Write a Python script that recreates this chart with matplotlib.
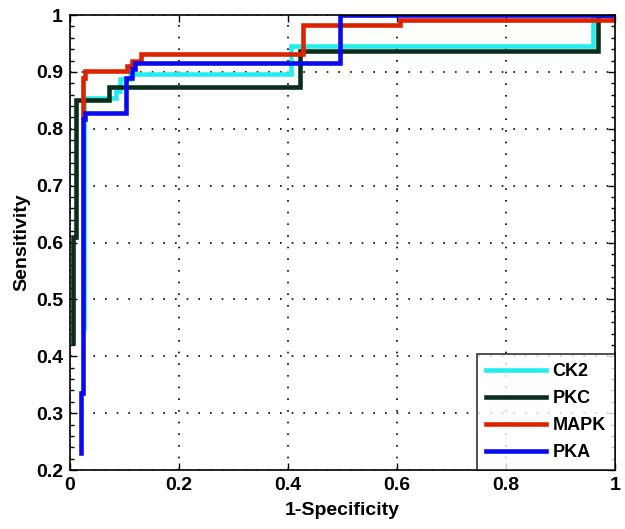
import matplotlib
matplotlib.use("Agg")
import matplotlib.pyplot as plt
from matplotlib.ticker import MultipleLocator

# ROC curve vertices (1-Specificity, Sensitivity)
ck2_fpr = [0.025, 0.025, 0.084, 0.084, 0.092, 0.092, 0.110, 0.110, 0.405, 0.405, 0.960, 0.960, 1.0]
ck2_tpr = [0.45, 0.854, 0.854, 0.866, 0.866, 0.888, 0.888, 0.896, 0.896, 0.946, 0.946, 1.0, 1.0]

pkc_fpr = [0.006, 0.006, 0.011, 0.011, 0.072, 0.072, 0.422, 0.422, 0.968, 0.968, 1.0]
pkc_tpr = [0.424, 0.61, 0.61, 0.851, 0.851, 0.873, 0.873, 0.9375, 0.9375, 1.0, 1.0]

mapk_fpr = [0.023, 0.023, 0.028, 0.028, 0.104, 0.104, 0.113, 0.113, 0.130, 0.130,
            0.428, 0.428, 0.605, 0.605, 0.994, 0.994, 1.0]
mapk_tpr = [0.82, 0.89, 0.89, 0.901, 0.901, 0.911, 0.911, 0.92, 0.92, 0.931,
            0.931, 0.982, 0.982, 0.991, 0.991, 1.0, 1.0]

pka_fpr = [0.020, 0.020, 0.0245, 0.0245, 0.028, 0.028, 0.102, 0.102, 0.113, 0.113,
           0.120, 0.120, 0.495, 0.495, 1.0]
pka_tpr = [0.23, 0.336, 0.336, 0.818, 0.818, 0.827, 0.827, 0.89, 0.89, 0.905,
           0.905, 0.915, 0.915, 1.0, 1.0]

labels = ["CK2", "PKC", "MAPK", "PKA"]
colors = ["#22EEEE", "#0B2E1C", "#DD2200", "#0A0AF0"]

x_ticks = [0, 0.2, 0.4, 0.6, 0.8, 1]
y_ticks = [0.2, 0.3, 0.4, 0.5, 0.6, 0.7, 0.8, 0.9, 1]

plt.rcParams['font.family'] = ['Liberation Sans', 'DejaVu Sans']
plt.rcParams['font.weight'] = 'bold'

fig = plt.figure(figsize=(6.25, 5.29), dpi=100)
ax = fig.add_axes([0.112, 0.1115, 0.872, 0.860])

series = [(ck2_fpr, ck2_tpr), (pkc_fpr, pkc_tpr), (mapk_fpr, mapk_tpr), (pka_fpr, pka_tpr)]
for (fx, ty), lab, col in zip(series, labels, colors):
    ax.plot(fx, ty, color=col, lw=3.3, label=lab, solid_joinstyle='miter')

ax.set_xlim(0, 1)
ax.set_ylim(0.2, 1)
ax.set_xticks(x_ticks)
ax.set_xticklabels([f"{v:g}" for v in x_ticks])
ax.set_yticks(y_ticks)
ax.set_yticklabels([f"{v:g}" for v in y_ticks])
ax.yaxis.set_minor_locator(MultipleLocator(0.02))
ax.tick_params(which='both', direction='in', top=True, right=True, labelsize=14)
ax.tick_params(which='major', length=5, width=1)
ax.tick_params(axis='y', which='major', pad=5)
ax.tick_params(axis='x', which='major', pad=5)
ax.tick_params(which='minor', length=3, width=1)
for lbl in ax.get_xticklabels() + ax.get_yticklabels():
    lbl.set_fontweight('bold')

ax.grid(True, which='major', color='black', linestyle=(0, (1, 6)), linewidth=1.2)
for s in ax.spines.values():
    s.set_linewidth(1.2)

ax.set_xlabel("1-Specificity", fontsize=14, fontweight='bold', labelpad=6)
ax.set_ylabel("Sensitivity", fontsize=14, fontweight='bold', labelpad=4)

leg = ax.legend(loc='lower right', fontsize=13, frameon=True, fancybox=False,
                borderaxespad=0, handlelength=3.3, handletextpad=0.4,
                labelspacing=0.55, borderpad=0.5, edgecolor='black')
leg.get_frame().set_linewidth(1.2)
for t in leg.get_texts():
    t.set_fontweight('bold')

fig.savefig("out.png", dpi=100)
